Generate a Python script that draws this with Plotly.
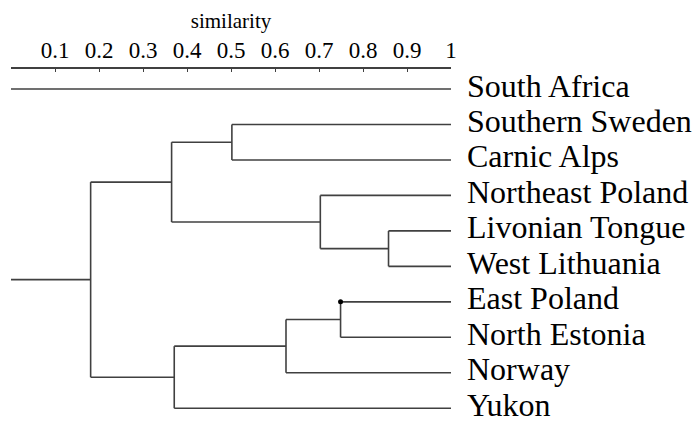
import plotly.graph_objects as go

# ---- data ----
leaves = ["South Africa", "Southern Sweden", "Carnic Alps", "Northeast Poland",
          "Livonian Tongue", "West Lithuania", "East Poland", "North Estonia",
          "Norway", "Yukon"]
# merges (children are leaf names or earlier merge ids "m<i>")
merge_a = ["Livonian Tongue", "East Poland", "Norway", "Northeast Poland",
           "Southern Sweden", "m4", "m2", "m5"]
merge_b = ["West Lithuania", "North Estonia", "m1", "m0",
           "Carnic Alps", "m3", "Yukon", "m6"]
merge_sim = [0.858, 0.749, 0.625, 0.703, 0.502, 0.365, 0.371, 0.181]
root_sim = 0.0
dot_leaf = "East Poland"
tick_vals = [0.1, 0.2, 0.3, 0.4, 0.5, 0.6, 0.7, 0.8, 0.9, 1.0]
tick_text = ["0.1", "0.2", "0.3", "0.4", "0.5", "0.6", "0.7", "0.8", "0.9", "1"]
axis_title = "similarity"

# ---- build dendrogram segments ----
LINE = "#404040"
node_y = {name: i for i, name in enumerate(leaves)}
node_x = {name: 1.0 for name in leaves}
xs, ys = [], []
merged = set()
for i, (a, b, s) in enumerate(zip(merge_a, merge_b, merge_sim)):
    for c in (a, b):
        xs += [s, node_x[c], None]
        ys += [node_y[c], node_y[c], None]
        merged.add(c)
    xs += [s, s, None]
    ys += [node_y[a], node_y[b], None]
    mid = f"m{i}"
    node_y[mid] = (node_y[a] + node_y[b]) / 2
    node_x[mid] = s
# root stem and unmerged leaves
root = f"m{len(merge_sim) - 1}"
xs += [root_sim, node_x[root], None]
ys += [node_y[root], node_y[root], None]
for name in leaves:
    if name not in merged:
        xs += [root_sim, 1.0, None]
        ys += [node_y[name], node_y[name], None]

# dot position: branch point of dot_leaf
dot_x = None
for a, b, s in zip(merge_a, merge_b, merge_sim):
    if dot_leaf in (a, b):
        dot_x = s

fig = go.Figure()
fig.add_trace(go.Scatter(x=xs, y=ys, mode="lines",
                         line=dict(color=LINE, width=1.6),
                         hoverinfo="skip", showlegend=False))
fig.add_trace(go.Scatter(x=[dot_x], y=[node_y[dot_leaf]], mode="markers",
                         marker=dict(color="black", size=5),
                         hoverinfo="skip", showlegend=False))

SERIF = "Liberation Serif"
for name in leaves:
    fig.add_annotation(text=name, x=1, xref="paper", y=node_y[name], yref="y",
                       xanchor="left", yanchor="middle", xshift=14, yshift=3.5,
                       showarrow=False,
                       font=dict(size=32, family=SERIF, color="black"))

fig.update_layout(
    width=693, height=422,
    margin=dict(l=11, r=242, t=69, b=4),
    paper_bgcolor="white", plot_bgcolor="white",
    font=dict(family=SERIF, color="black"),
    xaxis=dict(
        range=[0, 1], side="top", showgrid=False, zeroline=False,
        showline=True, linecolor=LINE, linewidth=1.6,
        ticks="inside", ticklen=3, tickwidth=1, tickcolor=LINE,
        tickvals=tick_vals, ticktext=tick_text,
        tickfont=dict(size=23, family=SERIF, color="black"),
        title=dict(text=axis_title, font=dict(size=21, family=SERIF, color="black"),
                   standoff=4),
        automargin=False,
    ),
    yaxis=dict(
        range=[9.275, -0.564], showgrid=False, zeroline=False,
        showline=False, ticks="", showticklabels=False,
        automargin=False,
    ),
)

fig.write_html("out.html")
